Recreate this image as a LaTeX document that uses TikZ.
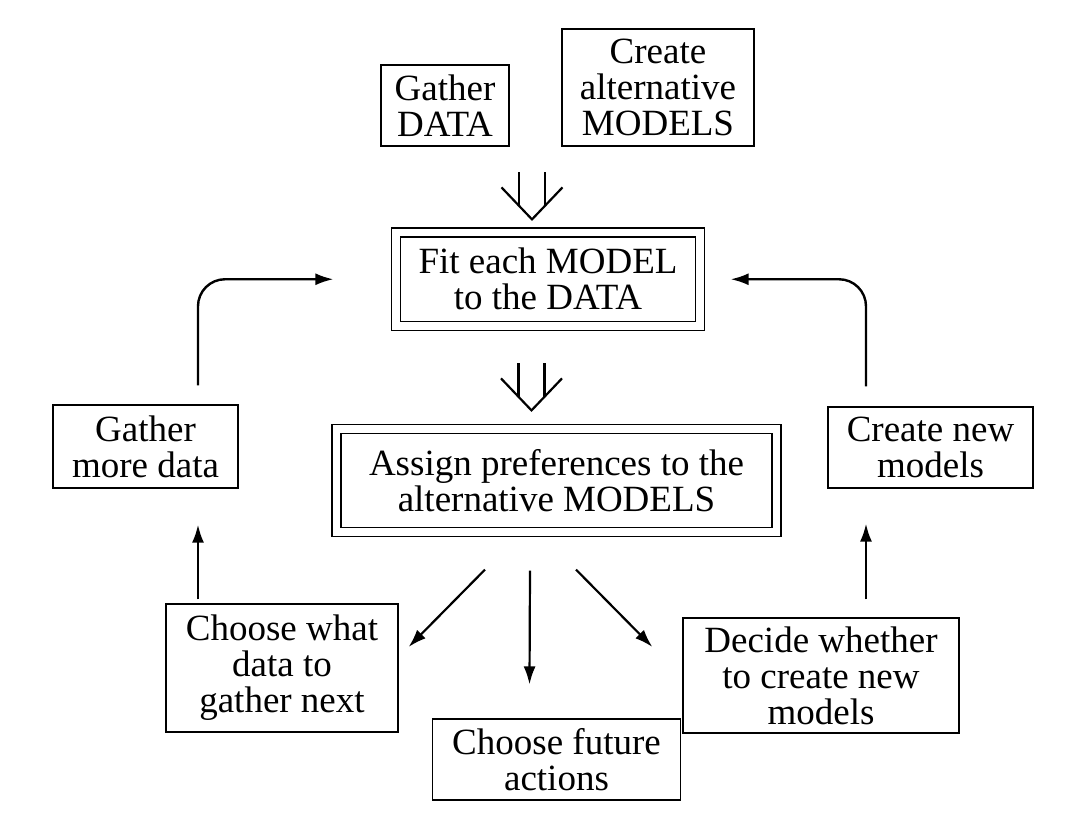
\documentclass[tikz,border=0pt]{standalone}
\usepackage{fontspec}
\setmainfont{Liberation Serif}
\usepackage{tikz}
\usetikzlibrary{shapes, arrows.meta, positioning, calc}
\newcommand{\boxfont}{\fontsize{18.5}{18}\selectfont}
\tikzstyle{block} = [rectangle, draw, line width=0.6pt, align=center, inner sep=1pt, font=\boxfont]
\tikzstyle{dblock} = [block, double, double distance=3.9pt]
\tikzstyle{line} = [draw, line width=1.2pt, -{Latex[length=9pt,width=6pt]}]
\tikzstyle{fan} = [draw, line width=1.1pt, -{Latex[length=9pt,width=6pt]}]
\tikzstyle{vhead} = [draw, line width=1.1pt]
\newcommand{\dblarrow}[1]{%
	\path [vhead] ($(#1)+(-13,-47)$) -- ($(#1)+(-13,-13.6)$);
	\path [vhead] ($(#1)+(13,-47)$) -- ($(#1)+(13,-13.6)$);
	\path [vhead] ($(#1)+(-30.5,-32)$) -- (#1) -- ($(#1)+(30.5,-32)$);
}

\begin{document}
\begin{tikzpicture}[x=0.5pt, y=-0.5pt, node distance = 50pt]
	\useasboundingbox (0,0) rectangle (1067,813);
	
	% Place nodes
	\node [block, minimum width=64pt, minimum height=40.5pt] 		(gd) 	at (445,105.5)		{Gather\\DATA};
	\node [block, minimum width=96pt, minimum height=58.5pt] 		(cam) 	at (658,87.5)		{Create\\alternative\\MODELS};
	\node [dblock, minimum width=152pt, minimum height=46.75pt] 	(fit) 	at (548,279.25)		{Fit each MODEL\\to the DATA};
	\node [dblock, minimum width=220pt, minimum height=51.5pt] 		(asg) 	at (556.5,480.5)	{Assign preferences to the\\alternative MODELS};
	\node [block, minimum width=92.5pt, minimum height=41.5pt] 		(gmd) 	at (145.5,446.5)	{Gather\\more data};
	\node [block, minimum width=102.5pt, minimum height=40.5pt] 	(cnm) 	at (930.5,447.5)	{Create new\\models};
	\node [block, minimum width=116pt, minimum height=64pt] 		(cwd) 	at (282,668)		{Choose what\\data to\\gather next};
	\node [block, below of=asg, node distance=139.5pt, minimum width=124pt, minimum height=40.5pt] (cfa) {Choose future\\actions};
	\node [block, minimum width=138pt, minimum height=57.5pt] 		(dec) 	at (821,675.5)		{Decide whether\\to create new\\models};
	
	\coordinate (in1) at ([xshift=-8pt, yshift=6.25pt]fit.north);
	\coordinate (in2) at ([xshift=-12.5pt, yshift=9pt]asg.north);
	
	%Draw edges
	\dblarrow{in1}
	\dblarrow{in2}
	\path [fan] ([xshift=-35.75pt, yshift=-18.5pt]asg.south) 	-- 	([xshift=5pt, yshift=10.5pt]cwd.east);
	\path [fan] ([xshift=-13.25pt, yshift=-19pt]asg.south) 		-- 	([xshift=-13.5pt, yshift=17pt]cfa.north);
	\path [fan] ([xshift=9.75pt, yshift=-18.5pt]asg.south) 		-- 	([xshift=-15pt, yshift=14.25pt]dec.west);
	\path [line] ([xshift=-42pt, yshift=2pt]cwd.north) 			-- 	([xshift=26.25pt, yshift=-18pt]gmd.south);
	\path [line] ([xshift=22.5pt, yshift=9pt]dec.north) 		-- 	([xshift=-32.25pt, yshift=-17.5pt]cnm.south);
	\path [line, rounded corners=13.5pt] ([xshift=26.25pt, yshift=9.5pt]gmd.north) 	|- 	([xshift=-31pt]fit.west);
	\path [line, rounded corners=13.5pt] ([xshift=-32.25pt, yshift=10pt]cnm.north) 	|- 	([xshift=15pt]fit.east);
	
\end{tikzpicture}
\end{document}
